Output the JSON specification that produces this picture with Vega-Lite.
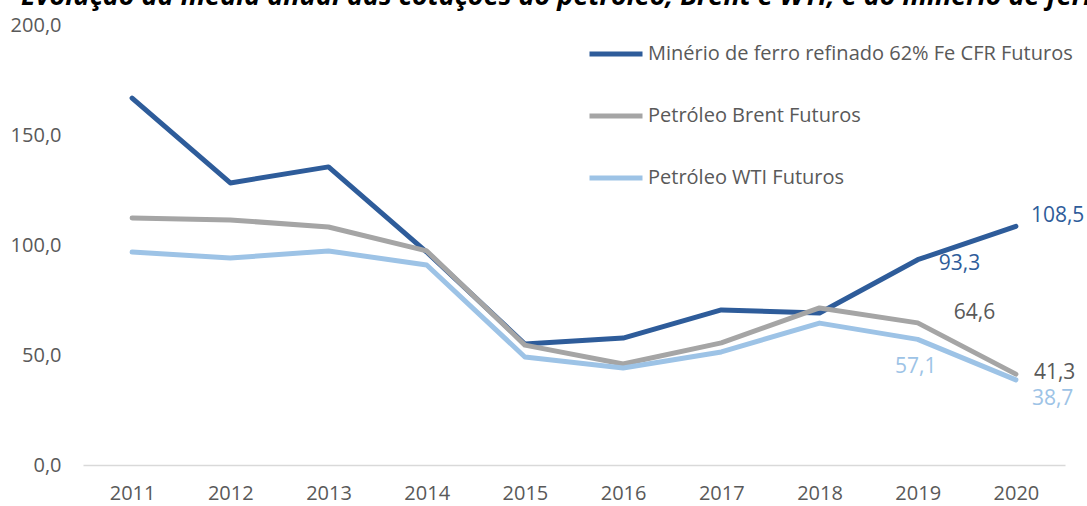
{
  "$schema": "https://vega.github.io/schema/vega-lite/v6.json",
  "width": 982,
  "height": 440,
  "autosize": {"type": "none"},
  "padding": {"left": 83, "top": 25, "right": 22, "bottom": 41},
  "background": "white",
  "title": {
    "text": "Evolução da média anual das cotações do petróleo, Brent e WTI, e do minério de ferro",
    "anchor": "start",
    "dx": 11,
    "offset": 4,
    "font": "Open Sans",
    "fontSize": 27,
    "fontWeight": "bold",
    "fontStyle": "italic",
    "color": "#000000"
  },
  "config": {
    "view": {"stroke": null},
    "font": "Open Sans",
    "locale": {"number": {"decimal": ",", "thousands": ".", "grouping": [3], "currency": ["R$", ""]}}
  },
  "data": {
    "values": [
      {"ano": "2011", "serie": "Minério de ferro refinado 62% Fe CFR Futuros", "valor": 166.8},
      {"ano": "2012", "serie": "Minério de ferro refinado 62% Fe CFR Futuros", "valor": 128.2},
      {"ano": "2013", "serie": "Minério de ferro refinado 62% Fe CFR Futuros", "valor": 135.5},
      {"ano": "2014", "serie": "Minério de ferro refinado 62% Fe CFR Futuros", "valor": 96.8},
      {"ano": "2015", "serie": "Minério de ferro refinado 62% Fe CFR Futuros", "valor": 55.0},
      {"ano": "2016", "serie": "Minério de ferro refinado 62% Fe CFR Futuros", "valor": 57.7},
      {"ano": "2017", "serie": "Minério de ferro refinado 62% Fe CFR Futuros", "valor": 70.5},
      {"ano": "2018", "serie": "Minério de ferro refinado 62% Fe CFR Futuros", "valor": 69.1},
      {"ano": "2019", "serie": "Minério de ferro refinado 62% Fe CFR Futuros", "valor": 93.3},
      {"ano": "2020", "serie": "Minério de ferro refinado 62% Fe CFR Futuros", "valor": 108.5},
      {"ano": "2011", "serie": "Petróleo Brent Futuros", "valor": 112.3},
      {"ano": "2012", "serie": "Petróleo Brent Futuros", "valor": 111.4},
      {"ano": "2013", "serie": "Petróleo Brent Futuros", "valor": 108.2},
      {"ano": "2014", "serie": "Petróleo Brent Futuros", "valor": 97.3},
      {"ano": "2015", "serie": "Petróleo Brent Futuros", "valor": 54.5},
      {"ano": "2016", "serie": "Petróleo Brent Futuros", "valor": 45.9},
      {"ano": "2017", "serie": "Petróleo Brent Futuros", "valor": 55.5},
      {"ano": "2018", "serie": "Petróleo Brent Futuros", "valor": 71.4},
      {"ano": "2019", "serie": "Petróleo Brent Futuros", "valor": 64.6},
      {"ano": "2020", "serie": "Petróleo Brent Futuros", "valor": 41.3},
      {"ano": "2011", "serie": "Petróleo WTI Futuros", "valor": 96.8},
      {"ano": "2012", "serie": "Petróleo WTI Futuros", "valor": 94.1},
      {"ano": "2013", "serie": "Petróleo WTI Futuros", "valor": 97.3},
      {"ano": "2014", "serie": "Petróleo WTI Futuros", "valor": 90.9},
      {"ano": "2015", "serie": "Petróleo WTI Futuros", "valor": 49.1},
      {"ano": "2016", "serie": "Petróleo WTI Futuros", "valor": 44.1},
      {"ano": "2017", "serie": "Petróleo WTI Futuros", "valor": 51.4},
      {"ano": "2018", "serie": "Petróleo WTI Futuros", "valor": 64.5},
      {"ano": "2019", "serie": "Petróleo WTI Futuros", "valor": 57.1},
      {"ano": "2020", "serie": "Petróleo WTI Futuros", "valor": 38.7}
    ]
  },
  "encoding": {
    "x": {
      "field": "ano", "type": "ordinal",
      "scale": {"type": "point", "padding": 0.5},
      "axis": {
        "title": null, "labelAngle": 0, "ticks": false,
        "domainColor": "#D9D9D9", "domainWidth": 1.5,
        "labelColor": "#595959", "labelFontSize": 20, "labelPadding": 18,
        "labelFont": "Open Sans", "grid": false
      }
    },
    "y": {
      "field": "valor", "type": "quantitative",
      "scale": {"domain": [0, 200]},
      "axis": {
        "title": null, "values": [0, 50, 100, 150, 200], "ticks": false,
        "domain": false, "grid": false, "format": ".1f",
        "labelColor": "#595959", "labelFontSize": 20, "labelPadding": 22,
        "labelFont": "Open Sans"
      }
    }
  },
  "layer": [
    {
      "mark": {"type": "line", "strokeWidth": 5, "strokeCap": "round", "strokeJoin": "round"},
      "encoding": {
        "color": {
          "field": "serie", "type": "nominal",
          "scale": {
            "domain": ["Minério de ferro refinado 62% Fe CFR Futuros", "Petróleo Brent Futuros", "Petróleo WTI Futuros"],
            "range": ["#2E5C9A", "#A5A5A5", "#9DC3E6"]
          },
          "legend": {
            "title": null, "orient": "none", "legendX": 504, "legendY": 0,
            "symbolType": "stroke", "symbolSize": 2809, "symbolStrokeWidth": 5,
            "labelFontSize": 20, "labelColor": "#595959", "labelFont": "Open Sans",
            "labelOffset": 3, "rowPadding": 23, "labelLimit": 600
          }
        }
      }
    },
    {
      "transform": [{"filter": "datum.serie == 'Minério de ferro refinado 62% Fe CFR Futuros' && datum.ano == '2020'"}],
      "mark": {"type": "text", "align": "left", "baseline": "middle", "dx": 15, "dy": -10, "fontSize": 21, "color": "#2E5C9A"},
      "encoding": {"text": {"field": "valor", "type": "quantitative", "format": ".1f"}}
    },
    {
      "transform": [{"filter": "datum.serie == 'Minério de ferro refinado 62% Fe CFR Futuros' && datum.ano == '2019'"}],
      "mark": {"type": "text", "align": "left", "baseline": "middle", "dx": 21, "dy": 4, "fontSize": 21, "color": "#2E5C9A"},
      "encoding": {"text": {"field": "valor", "type": "quantitative", "format": ".1f"}}
    },
    {
      "transform": [{"filter": "datum.serie == 'Petróleo Brent Futuros' && datum.ano == '2019'"}],
      "mark": {"type": "text", "align": "left", "baseline": "middle", "dx": 36, "dy": -10, "fontSize": 21, "color": "#595959"},
      "encoding": {"text": {"field": "valor", "type": "quantitative", "format": ".1f"}}
    },
    {
      "transform": [{"filter": "datum.serie == 'Petróleo Brent Futuros' && datum.ano == '2020'"}],
      "mark": {"type": "text", "align": "left", "baseline": "middle", "dx": 18, "dy": -1, "fontSize": 21, "color": "#595959"},
      "encoding": {"text": {"field": "valor", "type": "quantitative", "format": ".1f"}}
    },
    {
      "transform": [{"filter": "datum.serie == 'Petróleo WTI Futuros' && datum.ano == '2019'"}],
      "mark": {"type": "text", "align": "center", "baseline": "middle", "dx": -2, "dy": 28, "fontSize": 21, "color": "#9DC3E6"},
      "encoding": {"text": {"field": "valor", "type": "quantitative", "format": ".1f"}}
    },
    {
      "transform": [{"filter": "datum.serie == 'Petróleo WTI Futuros' && datum.ano == '2020'"}],
      "mark": {"type": "text", "align": "left", "baseline": "middle", "dx": 16, "dy": 19, "fontSize": 21, "color": "#9DC3E6"},
      "encoding": {"text": {"field": "valor", "type": "quantitative", "format": ".1f"}}
    }
  ]
}
